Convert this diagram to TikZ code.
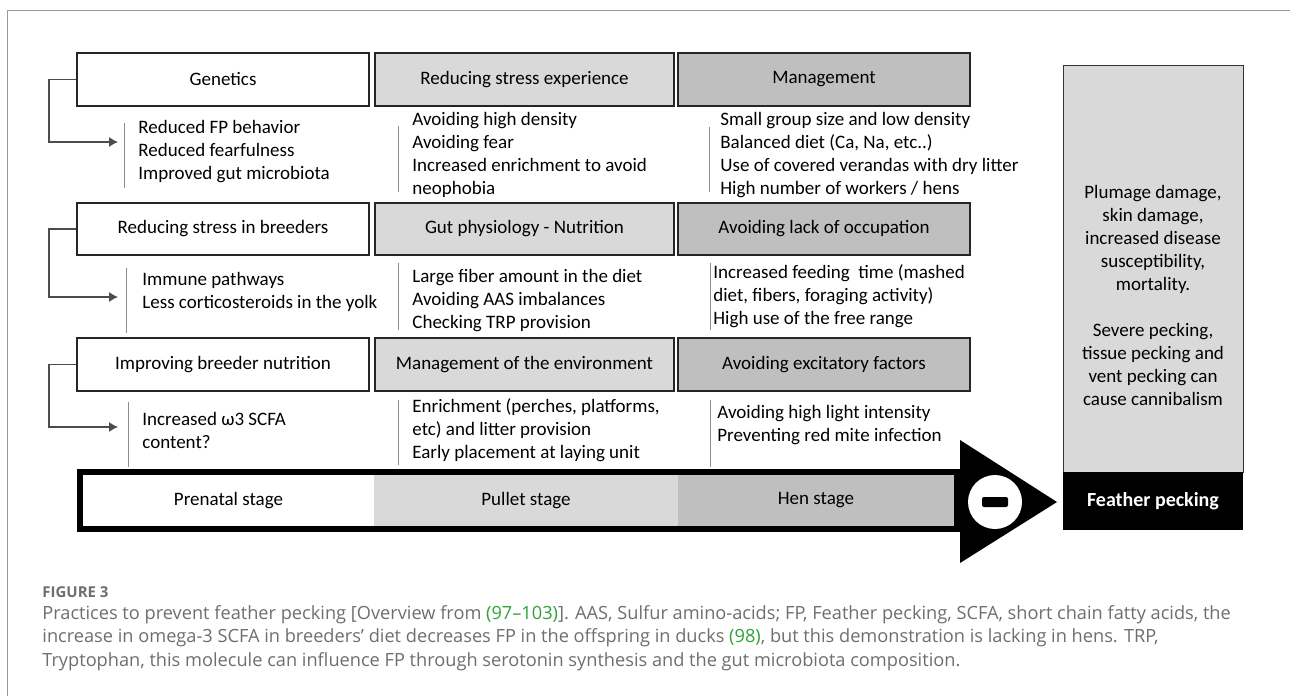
\documentclass[tikz,border=0pt]{standalone}
\usepackage{fontspec}
\setmainfont{Carlito}
\newfontfamily\capfont{Open Sans}
\usetikzlibrary{arrows.meta}
\definecolor{lg}{HTML}{D9D9D9}
\definecolor{mg}{HTML}{BFBFBF}
\definecolor{capgray}{HTML}{6E6E6E}
\definecolor{linkgreen}{HTML}{2FA336}
\definecolor{framegray}{HTML}{9A9A9A}
\begin{document}
\begin{tikzpicture}[x=0.5pt,y=-0.5pt,
  font=\fontsize{9.5}{11.5}\selectfont,
  hdr/.style={draw=black!85, line width=0.75pt, inner sep=0pt, minimum height=26.5pt},
  colA/.style={hdr, fill=white, minimum width=146pt},
  colB/.style={hdr, fill=lg, minimum width=149.5pt},
  colC/.style={hdr, fill=mg, minimum width=146pt},
  items/.style={anchor=north west, align=left, inner sep=0pt},
  sep/.style={draw=black!45, line width=0.5pt},
  conn/.style={draw=black!70, line width=0.6pt, -{Latex[length=4.5pt,width=5pt]}},
  stagebox/.style={inner sep=0pt, minimum height=25.5pt}
]
\useasboundingbox (0,0) rectangle (1290,696);
% frame
\draw[framegray, line width=0.5pt] (7,696) -- (7,10) -- (1290,10);

% header boxes
\node[colA] (g1) at (223,79.5) {Genetics};
\node[colB] (g2) at (524.5,79.5) {Reducing stress experience};
\node[colC] (g3) at (824,79.5) {Management};
\node[colA, minimum height=26pt] (r1) at (223,229) {Reducing stress in breeders};
\node[colB, minimum height=26pt] (r2) at (524.5,229) {Gut physiology - Nutrition};
\node[colC, minimum height=26pt] (r3) at (824,229) {Avoiding lack of occupation};
\node[colA] (n1) at (223,364.5) {Improving breeder nutrition};
\node[colB] (n2) at (524.5,364.5) {Management of the environment};
\node[colC] (n3) at (824,364.5) {Avoiding excitatory factors};

% item lists
\node[items] (t11) at (138,120) {Reduced FP behavior\\Reduced fearfulness\\Improved gut microbiota};
\node[items] (t12) at (412,112) {Avoiding high density\\Avoiding fear\\Increased enrichment to avoid\\neophobia};
\node[items] (t13) at (720,112) {Small group size and low density\\Balanced diet (Ca, Na, etc..)\\Use of covered verandas with dry litter\\High number of workers / hens};
\node[items] (t21) at (142,272) {Immune pathways\\Less corticosteroids in the yolk};
\node[items] (t22) at (412,269) {Large fiber amount in the diet\\Avoiding AAS imbalances\\Checking TRP provision};
\node[items] (t23) at (713,264) {Increased feeding\ \ time (mashed\\diet, fibers, foraging activity)\\High use of the free range};
\node[items] (t31) at (142,412) {Increased ω3 SCFA\\content?};
\node[items] (t32) at (412,398) {Enrichment (perches, platforms,\\etc) and litter provision\\Early placement at laying unit};
\node[items] (t33) at (717,405) {Avoiding high light intensity\\Preventing red mite infection};

% separators
\draw[sep] (124,123) -- (124,188);
\draw[sep] (398,126) -- (398,192);
\draw[sep] (709,127) -- (709,192);
\draw[sep] (126,268) -- (126,333);
\draw[sep] (398,263) -- (398,330);
\draw[sep] (710,263) -- (710,330);
\draw[sep] (128,402) -- (128,467);
\draw[sep] (398,400) -- (398,465);
\draw[sep] (710,400) -- (710,467);

% connectors
\coordinate (a1) at (118,142);
\coordinate (a2) at (118,297);
\coordinate (a3) at (118,427);
\draw[conn] (g1.west) -- (49,79.5) |- (a1);
\draw[conn] (r1.west) -- (49,229) |- (a2);
\draw[conn] (n1.west) -- (49,364.5) |- (a3);

% stage arrow
\fill[black] (77,469) rectangle (960,532);
\fill[black] (960,440) -- (1057,502) -- (960,563) -- cycle;
\node[stagebox, fill=white, minimum width=145.5pt] (s1) at (228.5,500.5) {Prenatal stage};
\node[stagebox, fill=lg, minimum width=152pt] (s2) at (526,500.5) {Pullet stage};
\node[stagebox, fill=mg, minimum width=138pt] (s3) at (816,500.5) {Hen stage};
\node[circle, fill=white, minimum size=27pt, inner sep=0pt] (minus) at (995,502) {};
\fill[black, rounded corners=1pt] (982,497) rectangle (1008,507);

% outcome box
\node[draw=black!80, fill=lg, line width=0.5pt, minimum width=90pt, minimum height=203.5pt, inner sep=0pt] (out) at (1153,268.5) {};
\node[anchor=north, align=center, inner sep=0pt] (outtxt) at (1153,185) {Plumage damage,\\skin damage,\\increased disease\\susceptibility,\\mortality.\\[11.5pt]Severe pecking,\\tissue pecking and\\vent pecking can\\cause cannibalism};
\node[fill=black, text=white, font=\fontsize{10}{12}\selectfont\bfseries, minimum width=90pt, minimum height=29pt, inner sep=0pt] (fp) at (1153,501) {Feather pecking};

% caption
\node[anchor=west, inner sep=0pt, text=capgray, font=\capfont\bfseries\fontsize{7.5}{9}\selectfont] (figlbl) at (42,592) {FIGURE 3};
\node[anchor=north west, align=left, inner sep=0pt, text=capgray, font=\capfont\fontsize{9.1}{11.75}\selectfont] (cap) at (42,605) {Practices to prevent feather pecking [Overview from \textcolor{linkgreen}{(97–103)}]. AAS, Sulfur amino-acids; FP, Feather pecking, SCFA, short chain fatty acids, the\\increase in omega-3 SCFA in breeders’ diet decreases FP in the offspring in ducks \textcolor{linkgreen}{(98)}, but this demonstration is lacking in hens. TRP,\\Tryptophan, this molecule can influence FP through serotonin synthesis and the gut microbiota composition.};
\end{tikzpicture}
\end{document}
